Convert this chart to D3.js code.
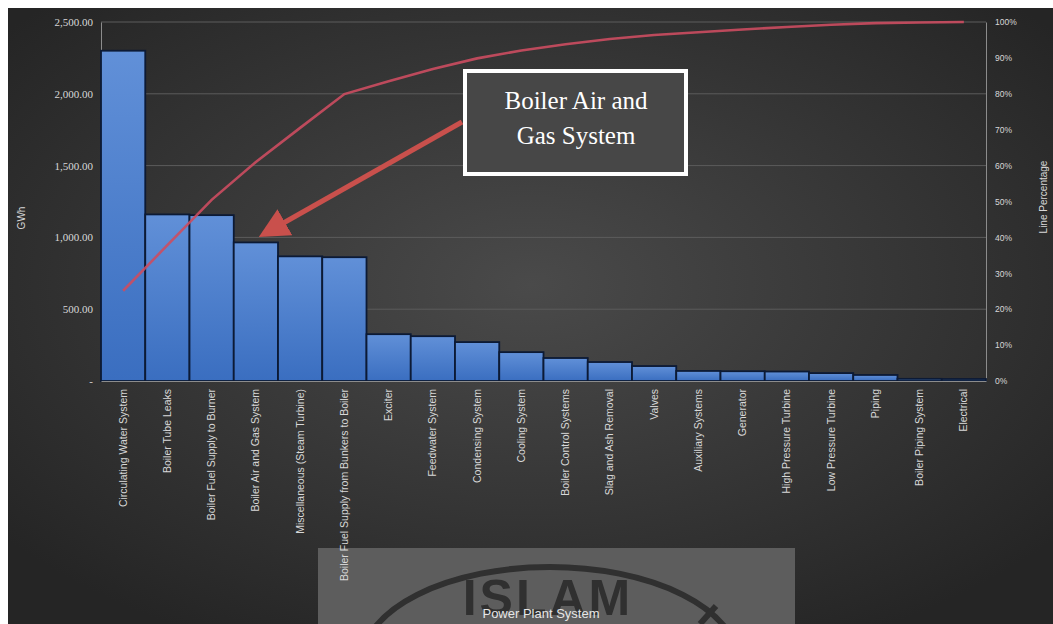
<!DOCTYPE html>
<html>
<head>
<meta charset="utf-8">
<script src="https://cdn.jsdelivr.net/npm/d3@7"></script>
<style>
  body { margin: 0; background: #fff; }
  svg { display: block; }
</style>
</head>
<body>
<div id="chart"></div>
<script>
////////////////////////////////////////////////////////////////////////
// Data

let systems = [
  "Circulating Water System", "Boiler Tube Leaks", "Boiler Fuel Supply to Burner",
  "Boiler Air and Gas System", "Miscellaneous (Steam Turbine)",
  "Boiler Fuel Supply from Bunkers to Boiler", "Exciter", "Feedwater System",
  "Condensing System", "Cooling System", "Boiler Control Systems",
  "Slag and Ash Removal", "Valves", "Auxiliary Systems", "Generator",
  "High Pressure Turbine", "Low Pressure Turbine", "Piping",
  "Boiler Piping System", "Electrical"
];
let gwh = [2300, 1160, 1155, 965, 868, 862, 326, 312, 271, 201,
           160, 132, 104, 70, 68, 66, 55, 42, 15, 14];
let leftTicks = [0, 500, 1000, 1500, 2000, 2500];
let rightTicks = [0, .1, .2, .3, .4, .5, .6, .7, .8, .9, 1];

// cumulative share for the pareto line
let total = d3.sum(gwh);
let running = 0;
let cumShare = gwh.map(function(v) { running += v; return running / total; });

////////////////////////////////////////////////////////////////////////
// Setup

let width = 1053, height = 624;
let plot = { left: 101, right: 986, top: 22, bottom: 381 };

let svg = d3.select("#chart").append("svg")
  .attr("width", width)
  .attr("height", height);

let defs = svg.append("defs");

let bg = defs.append("radialGradient").attr("id", "bg")
  .attr("cx", "50%").attr("cy", "45%").attr("r", "65%");
bg.append("stop").attr("offset", "0%").attr("stop-color", "#4a4a4a");
bg.append("stop").attr("offset", "100%").attr("stop-color", "#252525");

let barGrad = defs.append("linearGradient").attr("id", "barGrad")
  .attr("x1", 0).attr("y1", 0).attr("x2", 0).attr("y2", 1);
barGrad.append("stop").attr("offset", "0%").attr("stop-color", "#6190d8");
barGrad.append("stop").attr("offset", "100%").attr("stop-color", "#3a6ec0");

defs.append("marker")
  .attr("id", "arrowHead")
  .attr("viewBox", "0 0 10 10")
  .attr("refX", 8).attr("refY", 5)
  .attr("markerWidth", 6).attr("markerHeight", 6)
  .attr("orient", "auto")
  .append("path")
  .attr("d", "M 0 0 L 10 5 L 0 10 z")
  .attr("fill", "#c9504c");

svg.append("rect").attr("width", width).attr("height", height).attr("fill", "#fff");
svg.append("rect")
  .attr("x", 8).attr("y", 8)
  .attr("width", width - 8).attr("height", height - 8)
  .attr("fill", "url(#bg)");

let xScale = d3.scaleBand().domain(systems).range([plot.left, plot.right]).padding(0);
let yLeft = d3.scaleLinear().domain([0, 2500]).range([plot.bottom, plot.top]);
let yRight = d3.scaleLinear().domain([0, 1]).range([plot.bottom, plot.top]);

////////////////////////////////////////////////////////////////////////
// Watermark strip at bottom (sits under the chart text)

let wm = svg.append("g");
wm.append("rect")
  .attr("x", 318).attr("y", 548)
  .attr("width", 477).attr("height", 76)
  .attr("fill", "#5d5d5d");
wm.append("ellipse")
  .attr("cx", 550).attr("cy", 662)
  .attr("rx", 188).attr("ry", 95)
  .attr("fill", "none")
  .attr("stroke", "#303030")
  .attr("stroke-width", 6);
wm.append("line")
  .attr("x1", 700).attr("y1", 624).attr("x2", 716).attr("y2", 606)
  .attr("stroke", "#303030").attr("stroke-width", 6);
wm.append("text")
  .attr("x", 548).attr("y", 615)
  .attr("text-anchor", "middle")
  .attr("fill", "#303030")
  .style("font-family", "'Liberation Sans', Arial, sans-serif")
  .style("font-size", "50px")
  .style("font-weight", "bold")
  .style("letter-spacing", "3px")
  .text("ISLAM");

////////////////////////////////////////////////////////////////////////
// Grid + axes

svg.append("g")
  .selectAll("line")
  .data(leftTicks.slice(1))
  .enter()
  .append("line")
  .attr("x1", plot.left).attr("x2", plot.right)
  .attr("y1", function(d) { return yLeft(d); })
  .attr("y2", function(d) { return yLeft(d); })
  .attr("stroke", "#5c5c5c")
  .attr("stroke-width", 1);

let leftAxis = svg.append("g")
  .attr("transform", "translate(" + plot.left + ",0)")
  .call(d3.axisLeft(yLeft).tickValues(leftTicks).tickSize(0).tickPadding(8)
    .tickFormat(function(d) { return d === 0 ? "-" : d3.format(",.2f")(d); }));
leftAxis.selectAll("text")
  .style("font-family", "'Liberation Serif', 'Times New Roman', serif")
  .style("font-size", "11px");

let rightAxis = svg.append("g")
  .attr("transform", "translate(" + plot.right + ",0)")
  .call(d3.axisRight(yRight).tickValues(rightTicks).tickSize(0).tickPadding(9)
    .tickFormat(d3.format(".0%")));
rightAxis.selectAll("text")
  .style("font-family", "'Liberation Sans', Arial, sans-serif")
  .style("font-size", "8.5px");

[leftAxis, rightAxis].forEach(function(ax) {
  ax.select(".domain").attr("stroke", "#8c8c8c");
  ax.selectAll("text").attr("fill", "#d8d8d8");
});

////////////////////////////////////////////////////////////////////////
// Bars

svg.append("g")
  .selectAll("rect")
  .data(gwh)
  .enter()
  .append("rect")
  .attr("x", function(d, i) { return xScale(systems[i]); })
  .attr("y", function(d) { return yLeft(d); })
  .attr("width", xScale.bandwidth())
  .attr("height", function(d) { return plot.bottom - yLeft(d); })
  .attr("fill", "url(#barGrad)")
  .attr("stroke", "#0c1a35")
  .attr("stroke-width", 1.8);

let bottomAxis = svg.append("g")
  .attr("transform", "translate(0," + plot.bottom + ")")
  .call(d3.axisBottom(xScale).tickSize(0).tickPadding(0));
bottomAxis.select(".domain").attr("stroke", "#8c8c8c");
bottomAxis.selectAll("text")
  .attr("transform", "rotate(-90)")
  .attr("x", -8).attr("y", 0).attr("dy", "0.32em")
  .attr("text-anchor", "end")
  .attr("fill", "#d8d8d8")
  .style("font-family", "'Liberation Sans', Arial, sans-serif")
  .style("font-size", "10.5px");

////////////////////////////////////////////////////////////////////////
// Pareto line

let line = d3.line()
  .x(function(d, i) { return xScale(systems[i]) + xScale.bandwidth() / 2; })
  .y(function(d) { return yRight(d); });

svg.append("path")
  .datum(cumShare)
  .attr("d", line)
  .attr("fill", "none")
  .attr("stroke", "#cc4d60")
  .attr("stroke-opacity", 0.9)
  .attr("stroke-width", 2.6);

////////////////////////////////////////////////////////////////////////
// Axis titles

svg.append("text")
  .attr("transform", "translate(25,218) rotate(-90)")
  .attr("text-anchor", "middle")
  .attr("fill", "#d8d8d8")
  .style("font-family", "'Liberation Sans', Arial, sans-serif")
  .style("font-size", "10px")
  .text("GWh");

svg.append("text")
  .attr("transform", "translate(1047,197) rotate(-90)")
  .attr("text-anchor", "middle")
  .attr("fill", "#d8d8d8")
  .style("font-family", "'Liberation Sans', Arial, sans-serif")
  .style("font-size", "10px")
  .text("Line Percentage");

svg.append("text")
  .attr("x", 541).attr("y", 618)
  .attr("text-anchor", "middle")
  .attr("fill", "#e6e6e6")
  .style("font-family", "'Liberation Sans', Arial, sans-serif")
  .style("font-size", "13px")
  .text("Power Plant System");

////////////////////////////////////////////////////////////////////////
// Annotation: arrow + box

svg.append("line")
  .attr("x1", 462).attr("y1", 122)
  .attr("x2", 264).attr("y2", 234)
  .attr("stroke", "#c9504c")
  .attr("stroke-width", 5)
  .attr("marker-end", "url(#arrowHead)");

svg.append("rect")
  .attr("x", 465).attr("y", 71)
  .attr("width", 221).attr("height", 103)
  .attr("fill", "#474747")
  .attr("stroke", "#ffffff")
  .attr("stroke-width", 4);

svg.append("text")
  .attr("x", 576).attr("y", 109)
  .attr("text-anchor", "middle")
  .attr("fill", "#ffffff")
  .style("font-family", "'Liberation Serif', 'Times New Roman', serif")
  .style("font-size", "25px")
  .text("Boiler Air and");

svg.append("text")
  .attr("x", 576).attr("y", 144)
  .attr("text-anchor", "middle")
  .attr("fill", "#ffffff")
  .style("font-family", "'Liberation Serif', 'Times New Roman', serif")
  .style("font-size", "25px")
  .text("Gas System");
</script>
</body>
</html>
